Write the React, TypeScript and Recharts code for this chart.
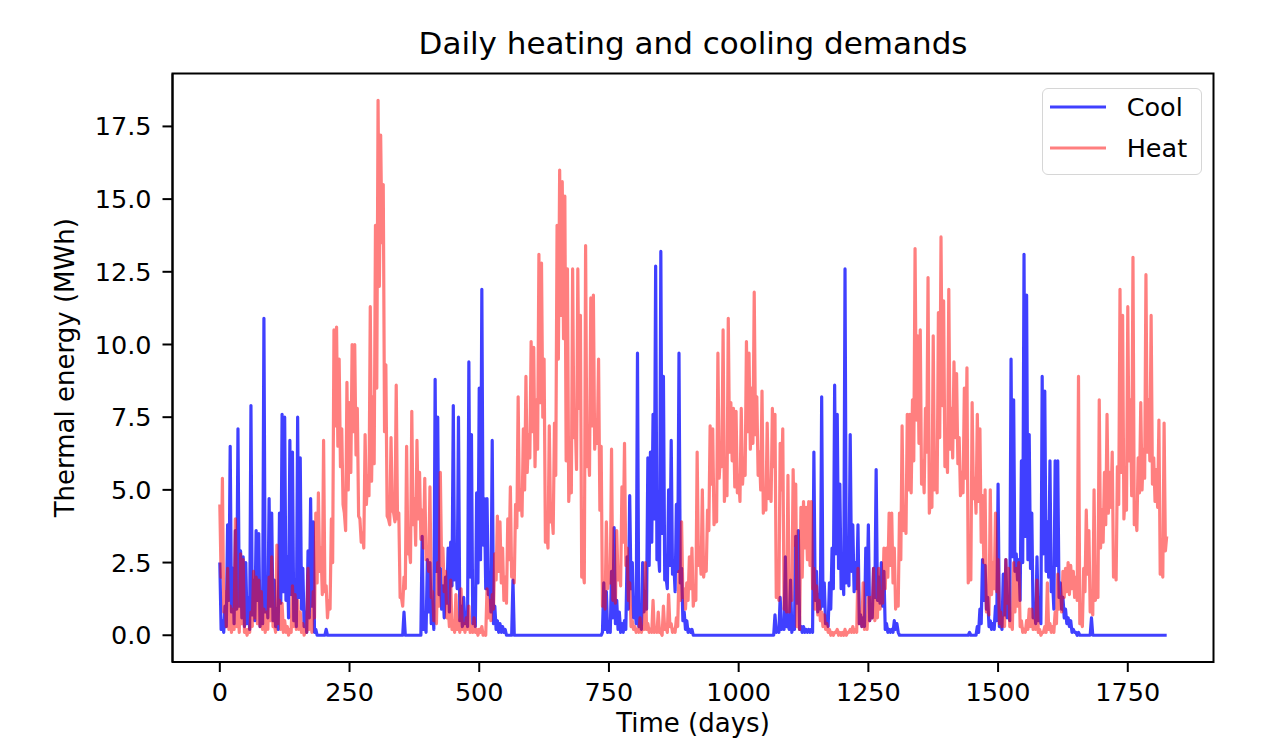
import { LineChart, Line, XAxis, YAxis, Legend, ReferenceArea } from 'recharts';

const FONT = '"DejaVu Sans", sans-serif';

// each year block: a reading every 5 days from yearStarts, plus the dip read between two readings
const yearStarts = [0, 365, 730, 1095, 1460];
const stepDays = 5;

const coolYear1 = [
  2.5, 0.5, 1.0, 3.8, 6.5, 2.3, 3.6, 7.1, 2.9, 2.7,
  2.5, 1.3, 7.9, 1.9, 3.6, 3.5, 1.0, 10.9, 1.7, 4.7,
  4.2, 1.9, 0.9, 4.2, 7.6, 7.5, 2.7, 6.7, 6.3, 1.3,
  7.5, 6.1, 2.3, 0.8, 2.9, 4.7, 3.9, 0.2, 0, 0,
  0, 0.2, 0, 0, 0, 0, 0, 0, 0, 0,
  0, 0, 0, 0, 0, 0, 0, 0, 0, 0,
  0, 0, 0, 0, 0, 0, 0, 0, 0, 0,
  0, 0.8, 0,
];
const coolDipYear1 = [
  0.2, 0.1, 0.3, 1.2, 0.8, 0.4, 0.9, 1.0, 0.6, 0.3,
  0.4, 0.2, 0.7, 0.5, 1.2, 0.3, 0.4, 0.8, 0.6, 1.0,
  0.5, 0.3, 0.2, 1.1, 1.5, 1.2, 0.6, 1.4, 0.5, 0.3,
  1.3, 0.9, 0.3, 0.1, 0.6, 1.0, 0.1, 0, 0, 0,
  0, 0, 0, 0, 0, 0, 0, 0, 0, 0,
  0, 0, 0, 0, 0, 0, 0, 0, 0, 0,
  0, 0, 0, 0, 0, 0, 0, 0, 0, 0,
  0, 0, 0,
];
const heatYear1 = [
  4.5, 5.4, 1.5, 2.3, 1.0, 0.9, 4.0, 0.8, 2.8, 2.6,
  0.2, 0.2, 0.8, 2.2, 2.0, 1.9, 1.5, 0.9, 0.8, 2.0,
  2.7, 0.4, 3.1, 1.2, 1.1, 0.5, 0.3, 0.2, 1.7, 1.4,
  1.2, 0.8, 0.4, 0.2, 2.3, 0.6, 1.5, 4.2, 4.9, 3.0,
  6.7, 1.7, 1.2, 4.0, 10.5, 10.6, 9.5, 7.1, 4.2, 8.7,
  8.0, 10.0, 10.0, 7.8, 4.0, 3.5, 6.9, 5.5, 11.3, 8.2,
  14.1, 18.4, 17.2, 15.5, 9.3, 4.0, 6.8, 4.2, 8.6, 4.2,
  1.3, 2.0, 6.5,
];
const heatDipYear1 = [
  2.0, 0.8, 0.3, 0.2, 0.1, 0.2, 0.3, 0.1, 0.4, 0.1,
  0.0, 0.1, 0.3, 0.6, 0.4, 0.3, 0.2, 0.1, 0.2, 0.5,
  0.3, 0.1, 0.4, 0.2, 0.1, 0.1, 0.0, 0.1, 0.3, 0.2,
  0.2, 0.1, 0.0, 0.1, 0.2, 0.1, 0.6, 1.8, 2.2, 1.4,
  1.5, 0.6, 0.9, 2.5, 7.2, 6.5, 5.8, 4.5, 3.6, 5.0,
  5.6, 7.0, 6.2, 4.1, 3.2, 3.0, 4.5, 4.8, 5.3, 5.9,
  8.5, 12.0, 13.5, 7.0, 4.1, 3.8, 4.3, 3.9, 4.0, 1.3,
  1.0, 1.6, 2.8,
];

const coolYear2 = [
  0, 0, 0, 0, 0, 3.4, 0.5, 2.6, 2.5, 1.0,
  8.8, 7.5, 2.3, 1.7, 2.0, 3.0, 3.2, 7.9, 2.5, 7.5,
  1.0, 1.3, 0.8, 9.4, 6.9, 0.8, 4.9, 8.5, 11.9, 4.7,
  4.7, 2.0, 6.7, 1.0, 0.5, 0.4, 0.3, 0.2, 0, 0,
  1.9, 0, 0, 0, 0, 0, 0, 0, 0, 0,
  0, 0, 0, 0, 0, 0, 0, 0, 0, 0,
  0, 0, 0, 0, 0, 0, 0, 0, 0, 0,
  0, 0, 0,
];
const coolDipYear2 = [
  0, 0, 0, 0, 0, 0.2, 0.1, 0.8, 0.4, 0.2,
  2.2, 1.4, 0.9, 0.6, 1.1, 0.8, 1.7, 1.9, 1.6, 0.5,
  0.3, 0.4, 0.3, 2.0, 0.4, 0.3, 1.8, 2.6, 3.1, 1.6,
  1.4, 0.8, 0.4, 0.2, 0.1, 0.1, 0.1, 0, 0, 0,
  0, 0, 0, 0, 0, 0, 0, 0, 0, 0,
  0, 0, 0, 0, 0, 0, 0, 0, 0, 0,
  0, 0, 0, 0, 0, 0, 0, 0, 0, 0,
  0, 0, 0,
];
const heatYear2 = [
  3.0, 7.7, 4.7, 6.7, 5.6, 4.3, 5.4, 3.0, 5.1, 1.5,
  0.8, 2.5, 5.6, 3.0, 2.2, 1.0, 1.9, 0.5, 1.4, 0.5,
  1.6, 0.4, 0.6, 1.0, 0.3, 0.6, 0.2, 0.2, 0.3, 0.1,
  1.6, 1.2, 1.4, 2.8, 4.1, 3.9, 3.0, 2.0, 4.0, 5.1,
  2.3, 4.5, 8.2, 5.0, 7.1, 8.9, 6.9, 10.1, 9.9, 8.1,
  13.1, 12.8, 9.5, 3.6, 7.2, 4.2, 7.3, 14.1, 16.0, 15.6,
  15.1, 12.6, 5.6, 12.6, 7.4, 12.6, 11.0, 2.2, 13.4, 6.5,
  11.6, 11.7, 7.4,
];
const heatDipYear2 = [
  2.5, 3.8, 3.1, 4.0, 3.3, 3.0, 2.6, 2.2, 1.3, 0.5,
  0.4, 1.0, 2.4, 1.5, 0.6, 0.3, 0.2, 0.1, 0.2, 0.1,
  0.2, 0.1, 0.2, 0.1, 0.1, 0.1, 0.0, 0.1, 0.0, 0.0,
  0.6, 0.5, 0.9, 1.9, 2.2, 1.8, 1.2, 1.1, 2.6, 2.0,
  1.8, 3.7, 4.3, 4.1, 5.0, 5.6, 6.1, 7.0, 5.8, 6.4,
  8.0, 7.5, 3.2, 3.0, 3.9, 3.5, 5.5, 9.5, 11.0, 10.2,
  6.0, 4.6, 4.9, 6.8, 5.7, 7.8, 2.0, 1.8, 5.8, 5.5,
  7.2, 6.4, 6.6,
];

const coolYear3 = [
  0, 0, 1.8, 1.5, 0.3, 2.2, 3.7, 1.2, 0.8, 0.4,
  0.5, 2.7, 4.8, 2.5, 1.0, 9.7, 0.6, 2.5, 1.5, 6.1,
  6.3, 7.6, 12.7, 3.0, 13.2, 8.9, 2.0, 5.0, 6.7, 2.5,
  4.5, 9.7, 2.3, 0.8, 0.5, 0.2, 0.2, 0, 0, 0,
  0, 0, 0, 0, 0, 0, 0, 0, 0, 0,
  0, 0, 0, 0, 0, 0, 0, 0, 0, 0,
  0, 0, 0, 0, 0, 0, 0, 0, 0.7, 0.2,
  1.3, 0.5, 2.7,
];
const coolDipYear3 = [
  0, 0.1, 0.2, 0.1, 0.1, 0.6, 0.4, 0.2, 0.1, 0.1,
  0.2, 0.9, 1.6, 0.6, 0.4, 0.3, 0.2, 0.8, 0.9, 2.4,
  3.2, 4.0, 2.6, 2.2, 3.5, 1.9, 1.6, 2.4, 2.1, 1.5,
  2.2, 1.8, 0.5, 0.2, 0.1, 0.1, 0, 0, 0, 0,
  0, 0, 0, 0, 0, 0, 0, 0, 0, 0,
  0, 0, 0, 0, 0, 0, 0, 0, 0, 0,
  0, 0, 0, 0, 0, 0, 0, 0, 0.1, 0.1,
  0.2, 0.2, 0.3,
];
const heatYear3 = [
  9.5, 6.5, 1.4, 3.9, 2.2, 6.4, 1.5, 3.6, 2.3, 5.1,
  6.6, 3.0, 1.8, 0.5, 0.3, 0.2, 0.6, 0.3, 2.5, 0.4,
  0.2, 1.2, 0.2, 0.8, 0.1, 1.0, 0.3, 1.4, 0.4, 0.2,
  0.6, 2.2, 3.9, 1.6, 1.8, 2.7, 3.0, 1.5, 6.3, 3.0,
  5.0, 2.5, 4.3, 7.2, 7.1, 4.2, 9.7, 6.3, 10.5, 5.4,
  10.9, 8.0, 7.8, 7.7, 5.5, 7.8, 6.1, 10.1, 9.7, 8.5,
  11.8, 8.2, 6.3, 8.4, 4.8, 7.3, 5.0, 7.8, 7.6, 1.5,
  6.6, 7.1, 1.0,
];
const heatDipYear3 = [
  4.3, 1.0, 0.9, 1.6, 1.8, 1.2, 1.1, 1.9, 1.7, 3.2,
  2.4, 1.2, 0.3, 0.2, 0.1, 0.1, 0.1, 0.2, 0.2, 0.1,
  0.1, 0.1, 0.1, 0.1, 0.0, 0.2, 0.1, 0.3, 0.1, 0.1,
  0.3, 1.2, 1.3, 0.9, 1.2, 1.6, 1.0, 1.2, 2.4, 2.1,
  2.0, 2.2, 3.6, 5.2, 3.8, 3.9, 5.4, 5.8, 4.6, 4.8,
  6.3, 6.0, 5.1, 4.9, 4.6, 5.2, 5.5, 7.0, 6.4, 6.6,
  6.9, 5.5, 5.0, 4.2, 4.3, 4.7, 4.6, 5.8, 1.3, 1.2,
  5.0, 0.9, 0.8,
];

const coolYear4 = [
  0.4, 1.9, 0.4, 3.4, 3.6, 0.3, 0.3, 0.2, 0.2, 0.2,
  6.3, 2.2, 1.4, 8.2, 1.8, 0.6, 1.8, 3.0, 8.6, 7.6,
  5.2, 2.3, 12.6, 2.2, 6.9, 3.8, 2.5, 3.8, 0.7, 0.6,
  3.0, 3.8, 0.9, 2.3, 5.7, 2.0, 2.5, 2.2, 0.4, 0.2,
  0.2, 0.5, 0.4, 0, 0, 0, 0, 0, 0, 0,
  0, 0, 0, 0, 0, 0, 0, 0, 0, 0,
  0, 0, 0, 0, 0, 0, 0, 0, 0, 0,
  0.1, 0, 0,
];
const coolDipYear4 = [
  0.2, 0.1, 0.2, 1.1, 0.2, 0.1, 0.1, 0.1, 0.1, 0.1,
  1.2, 0.8, 0.9, 1.0, 0.4, 0.3, 0.9, 1.6, 2.8, 2.3,
  1.6, 1.4, 1.8, 1.7, 2.2, 1.5, 1.6, 0.4, 0.3, 0.3,
  1.4, 0.5, 0.6, 1.3, 1.2, 1.1, 1.0, 0.2, 0.1, 0.1,
  0.1, 0.2, 0.1, 0, 0, 0, 0, 0, 0, 0,
  0, 0, 0, 0, 0, 0, 0, 0, 0, 0,
  0, 0, 0, 0, 0, 0, 0, 0, 0, 0,
  0, 0, 0,
];
const heatYear4 = [
  5.5, 2.0, 5.7, 5.2, 0.5, 4.4, 4.6, 4.4, 4.6, 4.6,
  2.3, 1.7, 1.2, 0.8, 0.7, 0.4, 0.2, 0.1, 0.1, 0.2,
  0.1, 0.1, 0.2, 0.1, 0.2, 0.3, 0.2, 2.3, 0.8, 1.8,
  0.4, 1.3, 1.3, 2.3, 1.2, 2.3, 1.5, 3.0, 3.0, 4.2,
  4.2, 3.0, 1.3, 4.2, 7.2, 4.0, 7.6, 7.6, 8.1, 13.3,
  10.3, 10.5, 6.0, 7.8, 12.3, 4.8, 10.3, 5.6, 11.1, 13.7,
  11.5, 6.7, 11.9, 7.8, 9.4, 9.0, 6.8, 5.6, 8.5, 9.2,
  2.3, 8.0, 5.4,
];
const heatDipYear4 = [
  0.8, 1.2, 3.1, 0.3, 0.2, 2.0, 3.0, 2.6, 2.4, 1.6,
  0.9, 0.7, 0.5, 0.3, 0.2, 0.1, 0.0, 0.0, 0.1, 0.0,
  0.0, 0.0, 0.0, 0.1, 0.1, 0.1, 0.1, 0.4, 0.3, 0.2,
  0.2, 0.5, 0.6, 0.5, 0.6, 0.9, 1.1, 1.6, 2.0, 2.4,
  1.8, 0.9, 1.0, 2.6, 3.6, 3.5, 5.0, 4.9, 6.0, 7.4,
  6.6, 5.2, 4.9, 6.3, 4.2, 4.4, 5.0, 4.9, 6.8, 7.9,
  5.8, 5.6, 6.4, 6.1, 6.8, 5.9, 4.8, 4.9, 5.4, 1.8,
  1.9, 4.7, 4.2,
];

const coolYear5 = [
  0.3, 0.9, 2.6, 2.4, 1.3, 0.5, 0.4, 1.0, 5.2, 0.5,
  2.1, 2.6, 1.0, 9.5, 8.1, 2.8, 2.6, 6.0, 13.1, 11.7,
  6.9, 4.2, 1.0, 2.7, 0.9, 8.9, 8.4, 3.9, 6.0, 1.9,
  6.0, 6.0, 1.8, 1.3, 0.9, 0.6, 0.5, 0.2, 0.1, 0.1,
  0, 0, 0, 0, 0.6, 0, 0, 0, 0, 0,
  0, 0, 0, 0, 0, 0, 0, 0, 0, 0,
  0, 0, 0, 0, 0, 0, 0, 0, 0, 0,
  0, 0, 0, 0,
];
const coolDipYear5 = [
  0.1, 0.4, 1.2, 0.9, 0.3, 0.2, 0.2, 0.5, 0.3, 0.2,
  0.7, 0.6, 0.5, 2.7, 2.2, 1.9, 1.2, 2.5, 3.4, 2.6,
  2.3, 0.6, 0.4, 0.5, 0.4, 2.8, 2.2, 2.0, 1.5, 0.9,
  2.4, 1.3, 0.9, 0.6, 0.4, 0.3, 0.1, 0.1, 0, 0,
  0, 0, 0, 0, 0, 0, 0, 0, 0, 0,
  0, 0, 0, 0, 0, 0, 0, 0, 0, 0,
  0, 0, 0, 0, 0, 0, 0, 0, 0, 0,
  0, 0, 0,
];
const heatYear5 = [
  7.6, 7.1, 4.8, 5.0, 1.0, 5.0, 2.5, 4.2, 2.6, 0.8,
  0.6, 2.6, 2.3, 0.5, 2.5, 2.3, 2.5, 0.5, 0.2, 0.5,
  0.9, 0.9, 0.5, 1.9, 0.2, 0.1, 0.3, 1.8, 0.4, 0.3,
  0.8, 2.1, 1.3, 2.2, 2.3, 2.5, 2.4, 2.2, 2.0, 8.9,
  0.5, 2.3, 4.3, 3.6, 1.0, 5.0, 1.5, 8.1, 4.3, 5.6,
  7.6, 5.6, 6.3, 2.3, 5.8, 11.9, 11.0, 4.8, 11.3, 8.1,
  13.0, 4.2, 6.1, 8.0, 6.4, 12.4, 8.1, 11.0, 6.1, 5.7,
  7.4, 2.3, 7.3, 3.4,
];
const heatDipYear5 = [
  4.6, 3.2, 2.5, 0.8, 0.7, 1.4, 1.6, 1.5, 0.4, 0.3,
  0.3, 1.1, 0.3, 0.2, 0.8, 1.0, 0.3, 0.1, 0.1, 0.2,
  0.3, 0.2, 0.2, 0.1, 0.0, 0.1, 0.1, 0.2, 0.1, 0.1,
  0.4, 0.9, 0.8, 1.3, 1.5, 1.4, 1.6, 1.3, 1.2, 0.4,
  0.3, 1.5, 2.1, 0.8, 0.7, 1.2, 1.3, 3.0, 3.2, 3.8,
  4.2, 4.4, 2.0, 1.9, 4.5, 5.6, 4.0, 4.3, 6.0, 4.8,
  3.8, 3.6, 4.9, 5.0, 5.4, 6.3, 6.0, 5.2, 4.6, 4.4,
  2.1, 2.0, 2.9,
];

const coolByYear = [coolYear1, coolYear2, coolYear3, coolYear4, coolYear5];
const coolDipByYear = [coolDipYear1, coolDipYear2, coolDipYear3, coolDipYear4, coolDipYear5];
const heatByYear = [heatYear1, heatYear2, heatYear3, heatYear4, heatYear5];
const heatDipByYear = [heatDipYear1, heatDipYear2, heatDipYear3, heatDipYear4, heatDipYear5];

const xTicks = [0, 250, 500, 750, 1000, 1250, 1500, 1750];
const yTicks = [0, 2.5, 5, 7.5, 10, 12.5, 15, 17.5];

const data = yearStarts.flatMap((start, y) =>
  coolByYear[y].flatMap((cool, i) => {
    const day = start + i * stepDays;
    const rows = [{ day, cool, heat: heatByYear[y][i] }];
    if (i < coolDipByYear[y].length) {
      rows.push({
        day: day + stepDays / 2,
        cool: coolDipByYear[y][i],
        heat: heatDipByYear[y][i],
      });
    }
    return rows;
  })
);

const axisStroke = { stroke: '#000', strokeWidth: 2 };
const tickStyle = { fill: '#000', fontSize: 25.5, fontFamily: FONT };

function LegendBox(props: any) {
  const payload = props.payload || [];
  return (
    <div
      style={{
        width: 160,
        height: 87,
        boxSizing: 'border-box',
        border: '1.5px solid #d6d6d6',
        borderRadius: 6,
        background: 'rgba(255,255,255,0.8)',
        position: 'relative',
        fontFamily: FONT,
      }}
    >
      {payload.map((entry: any, i: number) => (
        <div
          key={entry.value}
          style={{
            position: 'absolute',
            left: 7,
            top: 4.5 + i * 41,
            height: 26,
            display: 'flex',
            alignItems: 'center',
          }}
        >
          <svg width={56} height={26}>
            <line x1={0} x2={56} y1={13} y2={13} stroke={entry.color} strokeWidth={3} />
          </svg>
          <span style={{ marginLeft: 21, fontSize: 25.5, lineHeight: '26px', color: '#000' }}>
            {entry.value}
          </span>
        </div>
      ))}
    </div>
  );
}

export default function App() {
  return (
    <div style={{ position: 'relative', width: 1256, height: 730 }}>
      <div
        style={{
          position: 'absolute',
          left: 164.5,
          width: 1041,
          top: 20,
          textAlign: 'center',
          fontSize: 31,
          lineHeight: '31px',
          fontFamily: FONT,
          color: '#000',
          zIndex: 1,
          pointerEvents: 'none',
        }}
      >
        Daily heating and cooling demands
      </div>
      <LineChart
        width={1256}
        height={730}
        data={data}
        margin={{ top: 65.5, right: 50.5, bottom: 6, left: 0 }}
        style={{ fontFamily: FONT }}
      >
        <XAxis
          dataKey="day"
          type="number"
          domain={[-91.2, 1915.2]}
          ticks={xTicks}
          interval={0}
          allowDataOverflow
          height={70}
          tickSize={10}
          tickMargin={11}
          axisLine={axisStroke}
          tickLine={axisStroke}
          tick={tickStyle}
          label={{
            value: 'Time (days)',
            position: 'insideBottom',
            offset: 0,
            fill: '#000',
            fontSize: 26,
            fontFamily: FONT,
          }}
        />
        <YAxis
          type="number"
          domain={[-0.92, 19.32]}
          ticks={yTicks}
          interval={0}
          allowDataOverflow
          width={164.5}
          tickSize={10}
          tickMargin={11}
          tickFormatter={(v: number) => v.toFixed(1)}
          axisLine={axisStroke}
          tickLine={axisStroke}
          tick={tickStyle}
          label={{
            value: 'Thermal energy (MWh)',
            angle: -90,
            position: 'insideLeft',
            offset: 57,
            fill: '#000',
            fontSize: 26,
            fontFamily: FONT,
            style: { textAnchor: 'middle' },
          }}
        />
        <ReferenceArea
          x1={-91.2}
          x2={1915.2}
          y1={-0.92}
          y2={19.32}
          fill="none"
          fillOpacity={0}
          stroke="#000"
          strokeWidth={2}
          strokeOpacity={1}
        />
        <Legend
          layout="horizontal"
          verticalAlign="middle"
          align="center"
          wrapperStyle={{ left: 1033.7, top: 80.3, width: 160, height: 87 }}
          content={LegendBox}
        />
        <Line
          dataKey="cool"
          name="Cool"
          type="linear"
          stroke="rgba(0,0,255,0.75)"
          strokeWidth={3.2}
          strokeLinejoin="round"
          dot={false}
          activeDot={false}
          isAnimationActive={false}
        />
        <Line
          dataKey="heat"
          name="Heat"
          type="linear"
          stroke="rgba(255,0,0,0.5)"
          strokeWidth={3.2}
          strokeLinejoin="round"
          dot={false}
          activeDot={false}
          isAnimationActive={false}
        />
      </LineChart>
    </div>
  );
}
